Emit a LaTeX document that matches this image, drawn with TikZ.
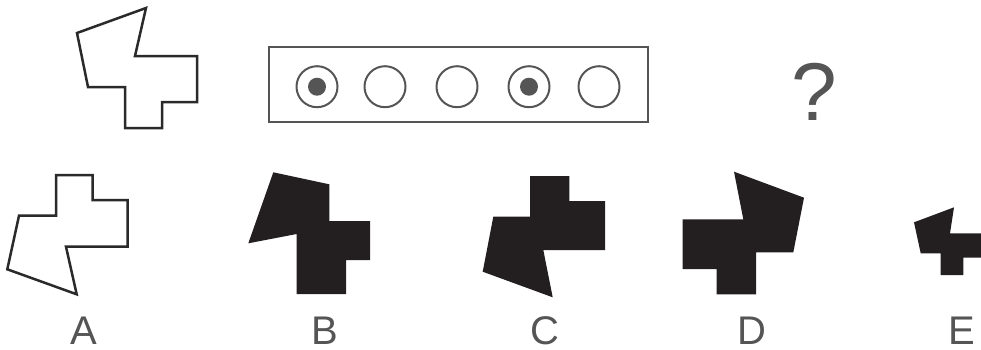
\documentclass[tikz,border=0pt]{standalone}
\usepackage{fontspec}
\setmainfont{Liberation Sans}
\definecolor{ink}{HTML}{231F20}
\definecolor{outl}{HTML}{2A2A2A}
\definecolor{grayline}{HTML}{555555}
\definecolor{txt}{HTML}{555555}
\tikzset{
  outline/.style={draw=outl, line width=2.5pt, line join=miter, fill=white},
  solid shape/.style={fill=ink, draw=none},
  frame/.style={draw=grayline, line width=2pt},
  ring/.style={draw=grayline, line width=2pt, fill=white},
  dot/.style={fill=grayline, draw=none},
  letter/.style={text=txt, font=\fontsize{40}{40}\selectfont, anchor=base, inner sep=0pt, text depth=0pt},
}
\begin{document}
\begin{tikzpicture}[x=1pt, y=-1pt]
\useasboundingbox (0,0) rectangle (981,349);
\clip (0,0) rectangle (981,349);
% top question shape
\draw[outline] (146,8) -- (77,33) -- (88,87) -- (125,87) -- (125,128) -- (162,128) -- (162,102) -- (197,102) -- (197,56) -- (135,56) -- cycle;
% frame with circles
\draw[frame] (269,47) rectangle (648,122);
\foreach \cx/\nm in {317/c1,385/c2,457/c3,529/c4,599/c5}
  \draw[ring] (\cx,86.7) circle (20.5);
\fill[dot] (317,86.7) circle (9);
\fill[dot] (529,86.7) circle (9);
% question mark
\node[text=txt, font=\fontsize{82}{82}\selectfont, anchor=base, inner sep=0pt] (q) at (814,120) {?};
% A
\draw[outline] (56,175) -- (92.7,175) -- (92.7,200) -- (127.7,200) -- (127.7,246.7) -- (66,246.7) -- (76.7,294.3) -- (7.3,269.3) -- (19,215.7) -- (56,215.7) -- cycle;
% B
\fill[solid shape] (273.3,172.3) -- (329.3,184.3) -- (329.3,221) -- (370,221) -- (370,260) -- (346,260) -- (346,294) -- (296.7,294) -- (296.7,234) -- (248.3,243.3) -- cycle;
% C
\fill[solid shape] (530,176) -- (569.3,176) -- (569.3,201) -- (605,201) -- (605,250) -- (543.3,250) -- (552.7,297.3) -- (482.7,271.7) -- (493.3,216.7) -- (530,216.7) -- cycle;
% D
\fill[solid shape] (734,171.7) -- (804,197.7) -- (793.3,252.3) -- (756,252.3) -- (756,294.3) -- (716.7,294.3) -- (716.7,269) -- (682.7,269) -- (682.7,219.3) -- (743.3,219.3) -- cycle;
% E
\fill[solid shape] (954,207.3) -- (914,222.3) -- (920.7,253.3) -- (940.7,253.3) -- (940.7,275) -- (963.3,275) -- (963.3,257.7) -- (985,257.7) -- (985,233.3) -- (950,233.3) -- cycle;
% labels
\node[letter] (la) at (84,344) {A};
\node[letter] (lb) at (325,344) {B};
\node[letter] (lc) at (545,344) {C};
\node[letter] (ld) at (752,344) {D};
\node[letter] (le) at (962,344) {E};
\end{tikzpicture}
\end{document}
